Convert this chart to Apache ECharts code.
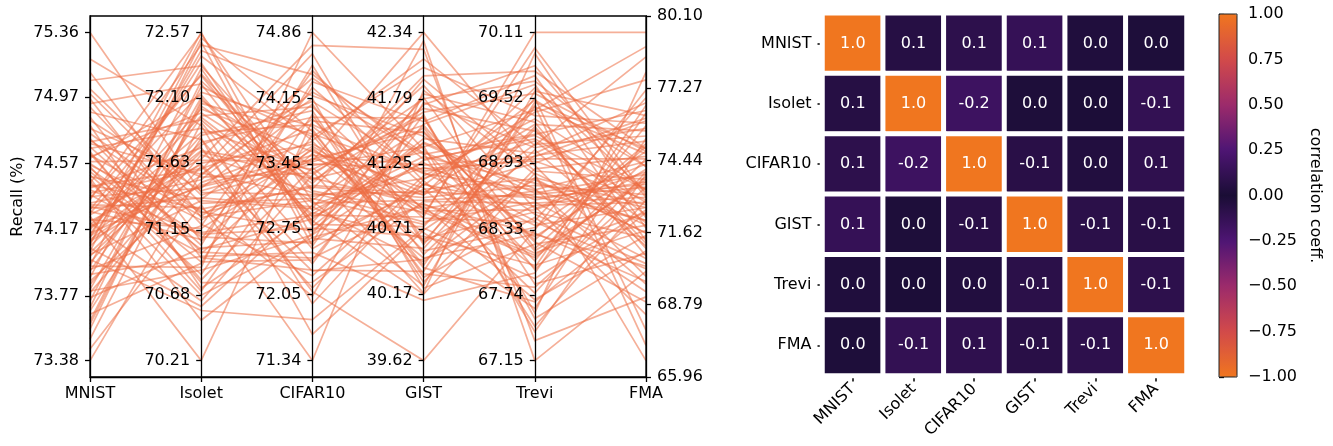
<!DOCTYPE html>
<html><head><meta charset="utf-8">
<script src="https://cdn.jsdelivr.net/npm/echarts@6/dist/echarts.min.js"></script>
<style>html,body{margin:0;padding:0;background:#fff}#c{width:1333px;height:446px}</style>
</head><body><div id="c"></div>
<script>
// ---------------- data ----------------
const dims = ['MNIST', 'Isolet', 'CIFAR10', 'GIST', 'Trevi', 'FMA'];

const mnist = [75.36,74.12,73.95,74.58,74.31,73.62,74.85,74.07,74.44,73.88,
74.69,74.21,73.51,74.96,74.35,74.02,74.63,73.79,74.27,75.12,
74.48,73.97,74.15,74.72,73.70,74.39,74.54,74.09,73.84,74.91,
74.25,74.66,73.45,74.18,74.80,74.33,73.92,74.57,74.04,75.02,
74.42,73.66,74.29,74.75,74.11,73.99,74.61,74.37,73.81,74.23,
74.88,74.50,73.38,74.14,74.67,74.01,74.46,73.74,74.30,75.20,
74.56,74.08,73.90,74.78,74.20,74.41,73.57,74.64,74.26,74.99,
74.36,73.86,74.52,74.17,74.71,73.95,74.43,74.06,73.68,74.83,
74.28,74.60,74.13,73.80,74.49,75.07,74.22,73.93,74.38,74.70,
73.60,74.32,74.55,74.03,74.93,74.19,73.76,74.45,74.10,74.62];

const isolet = [71.42,72.57,70.88,71.65,71.13,72.06,70.95,71.78,71.30,72.31,
71.55,70.64,71.92,71.07,72.48,71.36,70.79,71.61,72.14,71.24,
70.50,71.83,71.47,70.99,72.22,71.58,71.01,72.40,71.69,71.19,
70.21,71.88,71.33,72.02,70.73,71.51,71.96,71.10,72.53,71.40,
71.74,70.91,72.27,71.28,71.63,70.57,71.99,71.45,72.10,71.16,
71.80,70.83,71.56,72.35,71.04,71.71,70.68,72.18,71.38,71.90,
71.22,72.44,70.96,71.53,71.85,71.12,72.08,70.77,71.66,71.34,
72.26,71.49,70.92,71.97,71.27,72.50,71.59,70.60,71.81,71.43,
71.08,72.12,71.72,70.86,71.37,72.33,71.62,71.18,70.98,71.94,
72.04,71.31,70.71,71.76,72.20,71.46,71.02,72.56,71.54,71.25];

const cifar10 = [73.12,72.65,74.86,73.48,72.90,73.77,72.31,73.95,73.20,72.78,
74.15,73.33,72.54,73.62,74.41,72.97,73.41,72.12,73.85,73.06,
72.70,74.02,73.54,72.44,73.27,74.63,72.86,73.70,73.14,72.25,
73.91,73.37,71.34,73.58,72.93,74.22,73.03,72.60,73.80,73.45,
72.08,74.33,73.16,72.73,73.66,71.78,73.24,74.09,72.88,73.51,
72.38,73.98,73.10,72.82,74.51,73.29,72.66,73.74,72.99,71.95,
73.60,74.18,72.50,73.35,73.87,72.76,73.43,72.18,74.72,73.08,
72.95,73.69,72.42,74.06,73.22,72.57,73.82,73.01,71.62,73.50,
74.27,72.84,73.39,72.69,73.93,73.18,72.30,74.45,73.56,72.91,
73.30,72.03,73.76,74.12,72.80,73.47,72.62,73.05,74.37,73.64];

const gist = [41.02,40.55,41.37,42.34,40.81,41.18,40.36,41.63,40.97,41.46,
40.22,41.79,41.08,40.68,41.29,41.95,40.47,41.12,40.88,41.55,
41.74,40.31,41.24,40.92,41.68,40.60,41.40,42.12,40.77,41.15,
41.51,40.18,41.86,41.05,40.63,41.33,40.95,42.27,40.41,41.21,
39.62,41.60,40.85,41.43,41.01,40.72,41.90,40.50,41.26,40.99,
41.66,40.27,41.13,41.80,40.58,41.35,40.90,42.05,40.44,41.09,
40.83,41.48,40.12,41.71,41.17,40.65,41.39,40.94,42.20,40.75,
41.31,40.53,41.58,40.87,41.00,41.83,40.34,41.22,40.70,41.52,
41.07,40.17,41.64,41.28,40.80,41.98,40.46,41.11,40.61,41.42,
40.91,41.76,40.39,41.19,40.73,41.57,41.04,40.24,41.34,40.86];

const trevi = [68.62,69.24,68.05,68.91,70.11,68.37,69.48,67.84,68.73,69.02,
68.20,69.67,68.54,67.62,69.15,68.86,68.29,69.39,68.68,67.97,
69.81,68.44,68.99,68.12,69.56,68.78,67.41,69.09,68.58,69.33,
68.24,69.92,68.83,67.76,68.49,69.19,68.65,67.15,69.44,68.95,
68.33,69.72,68.08,68.70,69.28,67.89,68.52,69.05,68.41,69.61,
67.53,68.88,69.13,68.16,69.52,68.60,67.70,69.36,68.80,68.27,
69.97,68.47,67.94,69.22,68.69,68.01,69.41,68.57,67.33,69.10,
68.75,68.35,69.64,68.10,68.93,69.30,67.81,68.63,69.00,68.22,
69.50,68.84,67.58,69.18,68.40,69.76,68.55,67.99,69.26,68.66,
68.30,69.07,67.68,68.97,69.45,68.14,68.79,69.58,67.46,68.51];

const fma = [73.40,71.20,75.80,69.90,79.46,72.60,74.90,70.80,73.10,76.70,
71.90,74.20,68.40,75.30,72.80,73.70,70.30,77.60,72.10,74.50,
73.00,69.30,76.10,72.40,74.80,71.60,73.90,78.50,70.60,73.30,
75.10,72.20,66.60,74.00,71.40,76.40,73.50,70.10,74.70,72.90,
77.20,71.80,73.80,69.60,75.60,72.50,74.30,71.10,76.90,73.20,
70.90,74.60,72.00,75.00,67.80,73.60,71.50,75.90,72.70,74.10,
73.10,70.40,76.30,72.30,74.40,71.70,78.90,73.00,69.10,75.40,
72.60,74.80,71.30,73.70,76.00,70.70,73.40,72.10,75.20,68.90,
74.20,71.90,77.90,73.30,70.20,74.90,72.80,76.60,71.00,73.90,
69.70,75.70,72.40,74.50,67.20,73.60,71.60,76.20,72.90,74.00];

// tick labels of each parallel axis (bottom to top)
const mnistTicks   = ['73.38','73.77','74.17','74.57','74.97','75.36'];
const isoletTicks  = ['70.21','70.68','71.15','71.63','72.10','72.57'];
const cifar10Ticks = ['71.34','72.05','72.75','73.45','74.15','74.86'];
const gistTicks    = ['39.62','40.17','40.71','41.25','41.79','42.34'];
const treviTicks   = ['67.15','67.74','68.33','68.93','69.52','70.11'];
const fmaTicks     = ['65.96','68.79','71.62','74.44','77.27','80.10'];

// correlation matrix (rows/cols in dims order)
const corrMNIST   = [1.00, 0.06, 0.09, 0.13, 0.03, 0.02];
const corrIsolet  = [0.06, 1.00,-0.17, 0.02, 0.01,-0.12];
const corrCIFAR10 = [0.09,-0.17, 1.00,-0.07, 0.04, 0.10];
const corrGIST    = [0.13, 0.02,-0.07, 1.00,-0.08,-0.07];
const corrTrevi   = [0.03, 0.01, 0.04,-0.08, 1.00,-0.09];
const corrFMA     = [0.02,-0.12, 0.10,-0.07,-0.09, 1.00];

// ---------------- build ----------------
const cols = [mnist, isolet, cifar10, gist, trevi, fma];
const ticks = [mnistTicks, isoletTicks, cifar10Ticks, gistTicks, treviTicks, fmaTicks];
const padFrac = [0.05, 0.05, 0.05, 0.05, 0.05, 0];
const ranges = ticks.map((t, i) => {
  const a = +t[0], b = +t[5], m = (b - a) * padFrac[i];
  return [a - m, b + m];
});
const rows = mnist.map((_, r) => cols.map(c => c[r]));
const corr = [corrMNIST, corrIsolet, corrCIFAR10, corrGIST, corrTrevi, corrFMA];
const heatData = [];
corr.forEach((row, yi) => row.forEach((v, xi) => heatData.push([xi, yi, v])));

const FONT = 'DejaVu Sans';
const PL = 90, PR = 646, PT = 16, PB = 377;
const step = (PR - PL) / 5;
const black = '#000';
const txt = {color: black, fontSize: 16, fontFamily: FONT};

const cmap = ['#F0761F','#D24A4A','#9C2B6B','#4E1574','#1A0D35','#4E1574','#9C2B6B','#D24A4A','#F0761F'];

const parYAxes = ticks.map((t, i) => ({
  gridIndex: 0, type: 'value', min: ranges[i][0], max: ranges[i][1],
  position: i === 5 ? 'right' : 'left', offset: i === 5 ? 0 : -i * step,
  z: 5,
  axisLine: {show: true, lineStyle: {color: black, width: 1.3}},
  axisTick: {show: true, length: 5, lineStyle: {color: black, width: 1.3}, customValues: t.map(Number)},
  axisLabel: Object.assign({show: true, margin: 11, customValues: t.map(Number), formatter: v => v.toFixed(2)}, txt),
  splitLine: {show: false},
  name: i === 0 ? 'Recall (%)' : '', nameLocation: 'middle', nameGap: 64,
  nameTextStyle: txt
}));

const hiddenAxisParts = {
  axisLine: {show: false}, axisTick: {show: false}, splitLine: {show: false},
  axisLabel: {show: false, formatter: () => '', color: 'rgba(0,0,0,0)', fontSize: 1}
};

const option = {
  animation: false,
  textStyle: {fontFamily: FONT},
  parallel: {left: PL, right: 1333 - PR, top: PT, bottom: 446 - PB, parallelAxisDefault: hiddenAxisParts},
  parallelAxis: dims.map((d, i) => Object.assign({dim: i, type: 'value', min: ranges[i][0], max: ranges[i][1]}, hiddenAxisParts)),
  grid: [
    {left: PL, right: 1333 - PR, top: PT, bottom: 446 - PB, show: true, borderColor: black, borderWidth: 1.3,
     backgroundColor: 'transparent', containLabel: false, outerBoundsMode: 'none', z: 3},
    {left: 822.5, top: 13.2, width: 364, height: 362.3, containLabel: false, outerBoundsMode: 'none'},
    {left: 1219, top: 14, width: 18, height: 363, show: true, borderColor: '#222', borderWidth: 1,
     backgroundColor: 'transparent', containLabel: false, outerBoundsMode: 'none', z: 10}
  ],
  xAxis: [
    {gridIndex: 0, type: 'category', data: dims, boundaryGap: false,
     axisLine: {show: true, lineStyle: {color: black, width: 1.3}},
     axisTick: {show: true, length: 5, lineStyle: {color: black, width: 1.3}},
     axisLabel: Object.assign({margin: 9, interval: 0}, txt), splitLine: {show: false}},
    {gridIndex: 1, type: 'category', data: dims,
     axisLine: {show: false},
     axisTick: {show: true, alignWithLabel: true, length: 6, lineStyle: {color: black, width: 1.5}},
     axisLabel: Object.assign({margin: 11, rotate: 45, interval: 0}, txt), splitLine: {show: false}},
    {gridIndex: 2, type: 'value', min: 0, max: 1, show: false}
  ],
  yAxis: parYAxes.concat([
    {gridIndex: 1, type: 'category', data: dims, inverse: true,
     axisLine: {show: false},
     axisTick: {show: true, alignWithLabel: true, length: 5, lineStyle: {color: black, width: 1.5}},
     axisLabel: Object.assign({margin: 11, interval: 0}, txt), splitLine: {show: false}},
    {gridIndex: 2, type: 'value', min: -1, max: 1, interval: 0.25, position: 'right',
     axisLine: {show: false},
     axisTick: {show: true, length: 5, lineStyle: {color: black, width: 1.3}},
     axisLabel: Object.assign({margin: 11, formatter: v => v.toFixed(2).replace('-', '\u2212')}, txt),
     splitLine: {show: false},
     name: 'correlation coeff.', nameLocation: 'middle', nameRotate: -90, nameGap: 70, nameTextStyle: txt}
  ]),
  visualMap: {
    type: 'continuous', seriesIndex: 1, min: -1, max: 1, orient: 'vertical',
    left: 1219, top: 14, itemWidth: 18, itemHeight: 363, padding: 0,
    calculable: false, hoverLink: false, inRange: {color: cmap}, textStyle: {fontSize: 0}
  },
  series: [
    {type: 'parallel', parallelIndex: 0, data: rows, silent: true, smooth: false,
     lineStyle: {color: '#EC6D43', width: 1.7, opacity: 0.55}, emphasis: {disabled: true}},
    {type: 'heatmap', xAxisIndex: 1, yAxisIndex: 6, data: heatData, silent: true,
     itemStyle: {borderColor: '#fff', borderWidth: 5},
     label: {show: true, color: '#fff', fontSize: 16, fontFamily: FONT, formatter: p => p.value[2].toFixed(1)},
     emphasis: {disabled: true}}
  ]
};
const chart = echarts.init(document.getElementById('c'), null, {renderer: 'canvas'});
chart.setOption(option);
</script></body></html>
